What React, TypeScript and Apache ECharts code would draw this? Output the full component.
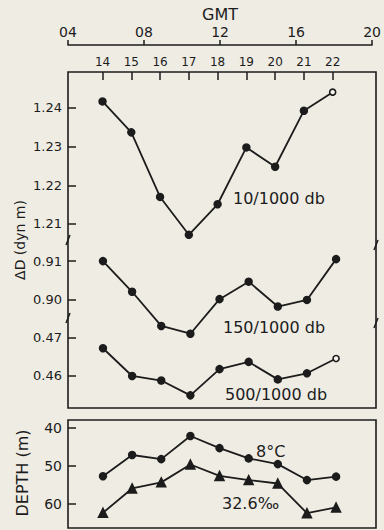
import React, { useEffect, useRef } from "react";
import * as echarts from "echarts";

const hours = [14, 15, 16, 17, 18, 19, 20, 21, 22];
const gmtTicks = [4, 8, 12, 16, 20];
const dd10 = [1.2417, 1.2337, 1.217, 1.2072, 1.2151, 1.2298, 1.2248, 1.2393, 1.2441];
const dd150 = [0.91, 0.9021, 0.8933, 0.8913, 0.9002, 0.9047, 0.8983, 0.9, 0.9105];
const dd500 = [0.4672, 0.4599, 0.4587, 0.4548, 0.4617, 0.4636, 0.459, 0.4606, 0.4645];
const depth8C = [52.7, 47.1, 48.2, 42.1, 45.3, 48.0, 49.5, 53.7, 52.8];
const depthSal = [62.3, 55.9, 54.3, 49.6, 52.6, 53.7, 54.6, 62.4, 60.9];
const ticks10 = [1.21, 1.22, 1.23, 1.24];
const ticks150 = [0.9, 0.91];
const ticks500 = [0.46, 0.47];
const depthTicks = [40, 50, 60];

const INK = "#1c1c1c";
const BG = "#efece4";
const FONT = "DejaVu Sans";

export default function App() {
  const ref = useRef<HTMLDivElement>(null);
  useEffect(() => {
    const chart = echarts.init(ref.current!, null, { renderer: "svg" });
    const L = 68, R = 8;
    const xBase = { type: "value", min: 12.8, max: 23.37, show: false };
    const yBase = (min: number, max: number, ticks: number[], gi: number, fs: number, inverse = false, digits = 2) => ({
      type: "value",
      gridIndex: gi,
      min,
      max,
      inverse,
      splitLine: { show: false },
      axisLine: { show: false },
      axisTick: { show: true, inside: true, length: 8, customValues: ticks, lineStyle: { color: INK, width: 1.5 } },
      axisLabel: {
        show: true,
        customValues: ticks,
        margin: 6,
        color: INK,
        fontFamily: FONT,
        fontSize: fs,
        formatter: (v: number) => v.toFixed(digits),
      },
    });
    const mk = (vals: number[], xi: number, yi: number, sym: string, openLast: boolean) => ({
      type: "line",
      xAxisIndex: xi,
      yAxisIndex: yi,
      clip: false,
      symbol: sym,
      symbolSize: sym === "triangle" ? 9 : 7,
      lineStyle: { color: INK, width: 1.8 },
      itemStyle: { color: INK, borderColor: INK, borderWidth: 1.5 },
      data: vals.map((v, i) => {
        const p: any = { value: [hours[i], v] };
        if (openLast && i === vals.length - 1) {
          p.symbol = "circle";
          p.symbolSize = 6;
          p.itemStyle = { color: "#f6f4ee", borderColor: INK, borderWidth: 1.6 };
        }
        return p;
      }),
    });
    const brk = (x: number, y: number) => ({
      type: "line",
      shape: { x1: x - 2, y1: y + 5, x2: x + 2, y2: y - 5 },
      style: { stroke: INK, lineWidth: 1.5 },
    });
    const txt = (x: number, y: number, t: string, fs: number, rot = 0) => ({
      type: "text",
      x,
      y,
      rotation: rot,
      style: { text: t, fill: INK, font: `${fs}px "${FONT}"`, align: rot ? "center" : "left", verticalAlign: "middle" },
    });
    chart.setOption({
      animation: false,
      backgroundColor: BG,
      grid: [
        { left: L, right: R, top: 72, height: 168 },
        { left: L, right: R, top: 240, height: 75 },
        { left: L, right: R, top: 315, height: 93 },
        { left: L, right: R, top: 420, height: 108 },
      ],
      xAxis: [
        {
          type: "value",
          gridIndex: 0,
          position: "top",
          min: 12.8,
          max: 23.37,
          splitLine: { show: false },
          axisLine: { show: false },
          axisTick: { inside: true, length: 8, customValues: hours, lineStyle: { color: INK, width: 1.5 } },
          axisLabel: { customValues: hours, margin: 4, color: INK, fontFamily: FONT, fontSize: 12 },
        },
        { ...xBase, gridIndex: 1 },
        { ...xBase, gridIndex: 2 },
        { ...xBase, gridIndex: 3 },
        {
          type: "value",
          gridIndex: 0,
          position: "top",
          offset: 27,
          min: 4,
          max: 20,
          interval: 4,
          name: "GMT",
          nameLocation: "middle",
          nameGap: 23,
          nameTextStyle: { color: INK, fontFamily: FONT, fontSize: 16 },
          splitLine: { show: false },
          axisLine: { show: true, lineStyle: { color: INK, width: 1.5 } },
          axisTick: { show: true, inside: false, length: 5, lineStyle: { color: INK, width: 1.5 } },
          axisLabel: {
            margin: 6,
            color: INK,
            fontFamily: FONT,
            fontSize: 14,
            showMinLabel: true,
            showMaxLabel: true,
            formatter: (v: number) => String(v).padStart(2, "0"),
          },
        },
      ],
      yAxis: [
        yBase(1.20586, 1.24931, ticks10, 0, 13),
        yBase(0.89612, 0.91543, ticks150, 1, 13),
        yBase(0.45147, 0.47595, ticks500, 2, 13),
        yBase(37.9, 66.3, depthTicks, 3, 14, true, 0),
      ],
      series: [
        mk(dd10, 0, 0, "circle", true),
        mk(dd150, 1, 1, "circle", false),
        mk(dd500, 2, 2, "circle", true),
        mk(depth8C, 3, 3, "circle", false),
        mk(depthSal, 3, 3, "triangle", false),
      ],
      graphic: [
        { type: "rect", shape: { x: L, y: 72, width: 376 - L, height: 336 }, style: { fill: "none", stroke: INK, lineWidth: 1.6 } },
        { type: "rect", shape: { x: L, y: 420, width: 376 - L, height: 108 }, style: { fill: "none", stroke: INK, lineWidth: 1.6 } },
        brk(L, 240),
        brk(L, 318),
        brk(376, 245),
        brk(376, 323),
        txt(233, 198, "10/1000 db", 16),
        txt(223, 327, "150/1000 db", 16),
        txt(225, 394, "500/1000 db", 16),
        txt(256, 451, "8°C", 16),
        txt(222, 503, "32.6‰", 16),
        txt(20, 240, "ΔD (dyn m)", 14, Math.PI / 2),
        txt(22, 473, "DEPTH (m)", 16, Math.PI / 2),
      ],
    } as any);
    return () => chart.dispose();
  }, []);
  return <div ref={ref} style={{ position: "absolute", left: 0, top: 0, width: 384, height: 530 }} />;
}
